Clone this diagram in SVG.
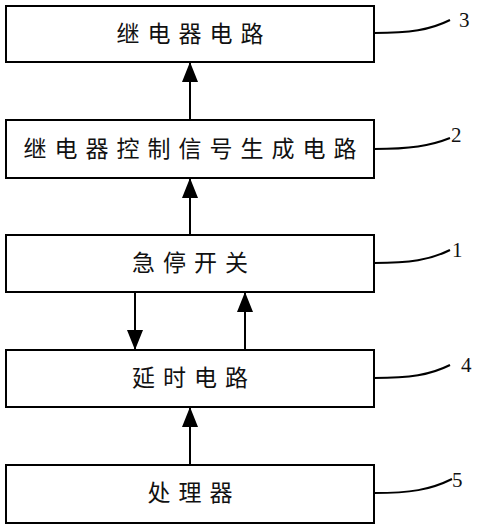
<svg xmlns="http://www.w3.org/2000/svg" width="480" height="530" viewBox="0 0 480 530">
<style>
.box{fill:#fff;stroke:#000;stroke-width:2}
.lbl{font-family:"Noto Sans CJK SC","Noto Sans",sans-serif;font-size:23px;letter-spacing:8px;text-anchor:middle;dominant-baseline:central;fill:#111;font-weight:400}
.num{font-family:"Liberation Serif",serif;font-size:21px;fill:#111}
.lead{fill:none;stroke:#000;stroke-width:2}
.conn{stroke:#000;stroke-width:2;fill:none;marker-end:url(#ah)}
</style>
<defs>
<marker id="ah" markerUnits="userSpaceOnUse" markerWidth="20" markerHeight="16" viewBox="0 0 20 16" refX="20" refY="8" orient="auto">
<path d="M0,0 L20,8 L0,16 Z" fill="#000"/>
</marker>
</defs>
<rect width="480" height="530" fill="#fff"/>
<g id="n3">
<rect class="box" x="6" y="6" width="368" height="56"/>
<text class="lbl" x="194" y="32">继电器电路</text>
<path class="lead" d="M374,33 C410,33 430,30 450,20"/>
<text class="num" x="459" y="27">3</text>
</g>
<g id="n2">
<rect class="box" x="6" y="120" width="368" height="58"/>
<text class="lbl" x="194" y="147">继电器控制信号生成电路</text>
<path class="lead" d="M374,149 C410,149 430,146 450,138"/>
<text class="num" x="451" y="142">2</text>
</g>
<g id="n1">
<rect class="box" x="6" y="235" width="368" height="57"/>
<text class="lbl" x="194" y="261">急停开关</text>
<path class="lead" d="M374,263 C410,263 430,260 450,250"/>
<text class="num" x="452" y="257">1</text>
</g>
<g id="n4">
<rect class="box" x="6" y="350" width="368" height="57"/>
<text class="lbl" x="194" y="376">延时电路</text>
<path class="lead" d="M374,378 C410,378 430,375 450,365"/>
<text class="num" x="461" y="372">4</text>
</g>
<g id="n5">
<rect class="box" x="6" y="465" width="368" height="58"/>
<text class="lbl" x="194" y="491">处理器</text>
<path class="lead" d="M374,493 C410,493 430,490 452,479"/>
<text class="num" x="452" y="487">5</text>
</g>
<g id="connectors">
<line class="conn" x1="190" y1="120" x2="190" y2="62"/>
<line class="conn" x1="190" y1="235" x2="190" y2="178"/>
<line class="conn" x1="135" y1="292" x2="135" y2="350"/>
<line class="conn" x1="245" y1="350" x2="245" y2="292"/>
<line class="conn" x1="190" y1="465" x2="190" y2="407"/>
</g>
</svg>
